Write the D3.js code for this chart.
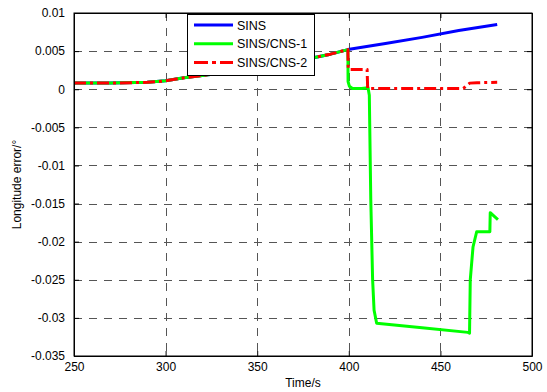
<!DOCTYPE html>
<html><head><meta charset="utf-8">
<script src="https://cdn.jsdelivr.net/npm/d3@7"></script>
<style>
html,body{margin:0;padding:0;background:#fff;}
svg{display:block;font-family:Arial,"Liberation Sans",sans-serif;}
</style></head>
<body>
<svg id="c" width="547" height="392"></svg>
<script>
// ---- data ----
const xTicks = [250, 300, 350, 400, 450, 500];
const yTicks = [0.01, 0.005, 0, -0.005, -0.01, -0.015, -0.02, -0.025, -0.03, -0.035];
const yTickLabels = ["0.01", "0.005", "0", "-0.005", "-0.01", "-0.015", "-0.02", "-0.025", "-0.03", "-0.035"];
const seriesNames = ["SINS", "SINS/CNS-1", "SINS/CNS-2"];

const sinsTime = [250, 270, 290, 300, 305, 310, 320, 330, 340, 350, 360, 370, 380, 390, 399.5, 420, 440, 460, 481];
const sinsVal  = [0.0008, 0.0008, 0.0009, 0.0011, 0.0013, 0.0015, 0.0018, 0.0021, 0.0025, 0.0028, 0.0032, 0.0036, 0.0041, 0.0046, 0.0052, 0.0060, 0.0068, 0.0077, 0.0085];

const cns1Time = [250, 270, 290, 300, 305, 310, 320, 330, 340, 350, 360, 370, 380, 390, 399.5, 399.6, 400.3, 402, 407, 410.5, 411.2, 412, 413, 413.8, 415.2, 440, 465, 465.9, 466.3, 467.8, 469.8, 477, 477.2, 481.4];
const cns1Val  = [0.0008, 0.0008, 0.0009, 0.0011, 0.0013, 0.0015, 0.0018, 0.0021, 0.0025, 0.0028, 0.0032, 0.0036, 0.0041, 0.0046, 0.0052, 0.0010, 0.0004, 0.0001, 0.0001, 0.0002, -0.0008, -0.0145, -0.0250, -0.0290, -0.0307, -0.0313, -0.0319, -0.0320, -0.0250, -0.0207, -0.0187, -0.0187, -0.0162, -0.0171];

const cns2Time = [250, 270, 290, 300, 305, 310, 320, 330, 340, 350, 360, 370, 380, 390, 399.5, 399.7, 410, 410.3, 440, 462.5, 466, 470, 481];
const cns2Val  = [0.0008, 0.0008, 0.0009, 0.0011, 0.0013, 0.0015, 0.0018, 0.0021, 0.0025, 0.0028, 0.0032, 0.0036, 0.0041, 0.0046, 0.0052, 0.0026, 0.0026, 0.0001, 0.0001, 0.0001, 0.0008, 0.00085, 0.0009];

// ---- layout ----
const L = 74, R = 532, T = 13, B = 356;
const svg = d3.select("#c");
const x = d3.scaleLinear().domain([250, 500]).range([L, R]);
const y = d3.scaleLinear().domain([-0.035, 0.01]).range([B, T]);

// grid
const grid = svg.append("g").attr("stroke", "#555").attr("stroke-width", 1).attr("stroke-dasharray", "8,7").attr("fill", "none");
xTicks.slice(1, -1).forEach(t => grid.append("line").attr("x1", Math.round(x(t)) + 0.5).attr("x2", Math.round(x(t)) + 0.5).attr("y1", T).attr("y2", B));
yTicks.slice(1, -1).forEach(t => grid.append("line").attr("y1", Math.round(y(t)) + 0.5).attr("y2", Math.round(y(t)) + 0.5).attr("x1", L).attr("x2", R));

// lines
const line = d3.line().x(d => x(d[0])).y(d => y(d[1]));
const styles = [
  {t: sinsTime, v: sinsVal, c: "#0000ff", dash: null},
  {t: cns1Time, v: cns1Val, c: "#00ff00", dash: null},
  {t: cns2Time, v: cns2Val, c: "#ff0000", dash: "12,4,3,4"}
];
styles.forEach(s => {
  const pts = s.t.map((t, i) => [t, s.v[i]]);
  const p = svg.append("path").attr("d", line(pts)).attr("fill", "none")
    .attr("stroke", s.c).attr("stroke-width", 3).attr("stroke-linejoin", "round");
  if (s.dash) p.attr("stroke-dasharray", s.dash);
});

// axes (box with inward ticks)
const xAxisB = d3.axisBottom(x).tickValues(xTicks).tickSizeInner(-5).tickSizeOuter(0).tickPadding(6);
const xAxisT = d3.axisTop(x).tickValues(xTicks).tickSizeInner(-5).tickSizeOuter(0).tickFormat("");
const yAxisL = d3.axisLeft(y).tickValues(yTicks).tickSizeInner(-5).tickSizeOuter(0).tickPadding(9)
  .tickFormat((d, i) => yTickLabels[i]);
const yAxisR = d3.axisRight(y).tickValues(yTicks).tickSizeInner(-5).tickSizeOuter(0).tickFormat("");

function style(g) {
  g.select(".domain").attr("stroke", "#000");
  g.selectAll(".tick line").attr("stroke", "#000");
  g.selectAll(".tick text").attr("fill", "#000").attr("font-size", 12).attr("font-family", "Arial, 'Liberation Sans', sans-serif");
}
svg.append("g").attr("transform", `translate(0,${B})`).call(xAxisB).call(style);
svg.append("g").attr("transform", `translate(0,${T})`).call(xAxisT).call(style);
svg.append("g").attr("transform", `translate(${L},0)`).call(yAxisL).call(style);
svg.append("g").attr("transform", `translate(${R},0)`).call(yAxisR).call(style);
svg.append("rect").attr("x", L).attr("y", T).attr("width", R - L).attr("height", B - T)
  .attr("fill", "none").attr("stroke", "#000").attr("stroke-width", 1);

// labels
svg.append("text").attr("x", (L + R) / 2).attr("y", 387).attr("text-anchor", "middle")
  .attr("font-size", 12).text("Time/s");
svg.append("text").attr("transform", `translate(21,${(T + B) / 2}) rotate(-90)`).attr("text-anchor", "middle")
  .attr("font-size", 12).text("Longitude error/°");

// legend
const lg = svg.append("g");
lg.append("rect").attr("x", 187.5).attr("y", 14.5).attr("width", 127).attr("height", 61)
  .attr("fill", "#fff").attr("stroke", "#000").attr("stroke-width", 1);
styles.forEach((s, i) => {
  const yy = 25 + i * 18.7;
  const l = lg.append("line").attr("x1", 194).attr("x2", 233).attr("y1", yy).attr("y2", yy)
    .attr("stroke", s.c).attr("stroke-width", 3);
  if (s.dash) l.attr("stroke-dasharray", "14,4,4,4");
  lg.append("text").attr("x", 237).attr("y", yy + 4.5).attr("font-size", 12.5).text(seriesNames[i]);
});
</script>
</body></html>
